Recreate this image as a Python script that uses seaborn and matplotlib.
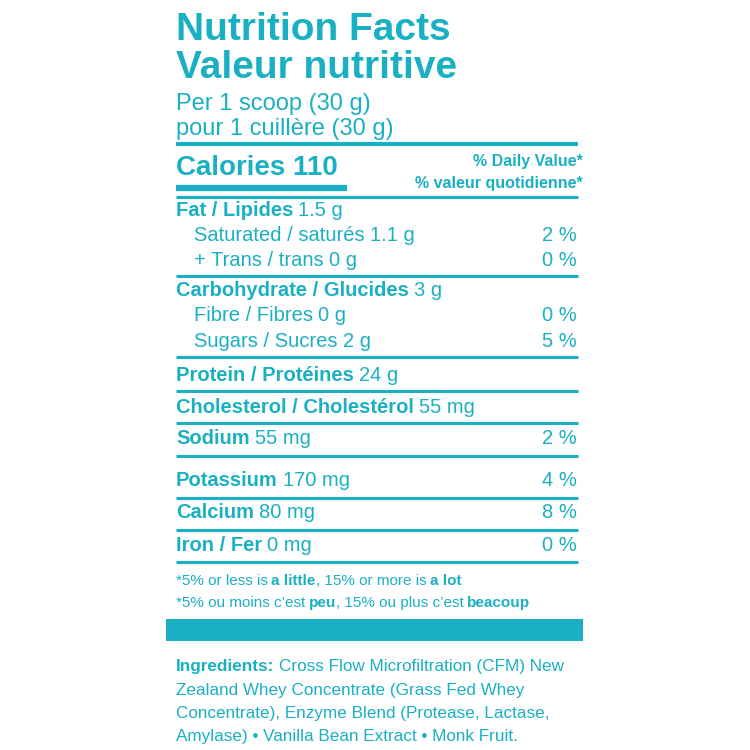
import matplotlib
matplotlib.use("Agg")
import matplotlib.pyplot as plt
import seaborn as sns

sns.set_theme(style="white")
C = "#1ab0c3"
FONT = "Liberation Sans"

bold_parts = ["Fat / Lipides", "Saturated / saturés", "+ Trans / trans", "Carbohydrate / Glucides",
              "Fibre / Fibres", "Sugars / Sucres", "Protein / Protéines", "Cholesterol / Cholestérol",
              "Sodium", "Potassium", "Calcium", "Iron / Fer"]
amounts = ["1.5 g", "1.1 g", "0 g", "3 g", "0 g", "2 g", "24 g", "55 mg", "55 mg", "170 mg", "80 mg", "0 mg"]
percents = ["", "2 %", "0 %", "", "0 %", "5 %", "", "", "2 %", "4 %", "8 %", "0 %"]
indented = [False, True, True, False, True, True, False, False, False, False, False, False]
baselines = [216, 241, 266, 296, 321, 347, 381, 413, 444, 486, 518, 551]
rules = [276, 357, 391, 423, 456, 498, 530, 562]

fig = plt.figure(figsize=(7.5, 7.5), dpi=100)
ax = fig.add_axes([0, 0, 1, 1])
ax.set_xlim(0, 750); ax.set_ylim(750, 0); ax.axis("off")
fig.canvas.draw()
r = fig.canvas.get_renderer()

def txt(x, y, s, size, bold=False, ha="left"):
    return ax.text(x, y, s, fontsize=size, fontfamily=FONT, color=C, ha=ha, va="baseline",
                   fontweight="bold" if bold else "normal")

def pair(x, y, b, n, size, boldfirst=True):
    t = txt(x, y, b, size, bold=boldfirst)
    x2 = t.get_window_extent(r).x1 + size * 0.35
    txt(x2, y, n, size)

def hline(y, lw, x0=176, x1=578):
    ax.plot([x0, x1], [y, y], color=C, lw=lw, solid_capstyle="butt")

txt(176, 40, "Nutrition Facts", 28, True)
txt(176, 78, "Valeur nutritive", 28, True)
txt(176, 110, "Per 1 scoop (30 g)", 17)
txt(176, 135, "pour 1 cuillère (30 g)", 17)
hline(144, 3)
txt(176, 175, "Calories 110", 20, True)
hline(188, 4.5, 176, 347)
txt(583, 166, "% Daily Value*", 11.5, True, ha="right")
txt(583, 188, "% valeur quotidienne*", 11.5, True, ha="right")
hline(197, 2.2)

for b, a, p, ind, y in zip(bold_parts, amounts, percents, indented, baselines):
    x = 194 if ind else 176
    pair(x, y, b, a, 14.5, boldfirst=not ind)
    if p:
        txt(577, y, p, 14.5, ha="right")
for y in rules:
    hline(y, 2.2)

segs1 = [("*5% or less is", False), ("a little", True), (", 15% or more is", False), ("a lot", True)]
segs2 = [("*5% ou moins c’est", False), ("peu", True), (", 15% ou plus c’est", False), ("beacoup", True)]
for segs, y in [(segs1, 585), (segs2, 607)]:
    x = 176
    for i, (s, bd) in enumerate(segs):
        if i > 0 and not s.startswith(","):
            x += 3.5
        tt = txt(x, y, s, 11, bd)
        x = tt.get_window_extent(r).x1
        if i < len(segs) - 1 and segs[i + 1][0].startswith(","):
            pass
        elif i < len(segs) - 1:
            pass

ax.add_patch(plt.Rectangle((166, 619), 417, 22, color=C, lw=0))

ing = ["Cross Flow Microfiltration (CFM) New",
       "Zealand Whey Concentrate (Grass Fed Whey",
       "Concentrate), Enzyme Blend (Protease, Lactase,",
       "Amylase) • Vanilla Bean Extract • Monk Fruit."]
pair(176, 671, "Ingredients:", ing[0], 12.3)
for s, y in zip(ing[1:], [695, 718, 741]):
    txt(176, y, s, 12.3)

fig.savefig("out.png", dpi=100)
